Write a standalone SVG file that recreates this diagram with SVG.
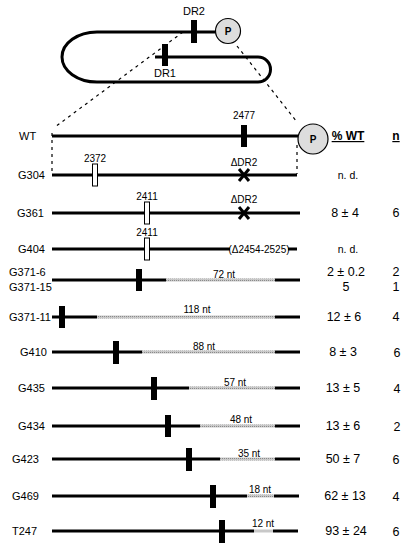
<svg xmlns="http://www.w3.org/2000/svg" width="412" height="550" viewBox="0 0 412 550">
<style>
text{font-family:"Liberation Sans",Arial,sans-serif;fill:#000}
.lbl{font-size:11px}
.num{font-size:10px;text-anchor:middle}
.val{font-size:12.5px;text-anchor:middle}
.ln{stroke:#000;stroke-width:3;fill:none}
.st{stroke:url(#stip);stroke-width:3;fill:none}
.bar{fill:#000}
.obar{fill:#fff;stroke:#000;stroke-width:1}
.dash{stroke:#000;stroke-width:1.2;stroke-dasharray:3,4;fill:none}
.pc{fill:#ddd;stroke:#000;stroke-width:1.2}
.x{stroke:#000;stroke-width:3}
</style>
<defs>
<pattern id="stip" width="2" height="2" patternUnits="userSpaceOnUse">
<rect width="2" height="2" fill="#c8c8c8"/>
<rect width="1" height="1" fill="#8a8a8a"/>
</pattern>
</defs>

<g id="hairpin">
<path class="ln" d="M215,32 H97 A35,25 0 0 0 97,82 H258 A12.5,12.5 0 0 0 258,57 H155"/>
<rect class="bar" x="191" y="20" width="6" height="23"/>
<rect class="bar" x="162" y="44" width="6" height="22"/>
<circle class="pc" cx="228" cy="31" r="12.5"/>
<text x="228" y="35" font-size="10" font-weight="bold" text-anchor="middle">P</text>
<text class="lbl" x="194" y="15" text-anchor="middle">DR2</text>
<text class="lbl" x="165" y="77" text-anchor="middle">DR1</text>
</g>

<g id="connectors">
<line class="dash" x1="183" y1="32" x2="55" y2="127"/>
<line class="dash" x1="237" y1="46" x2="297" y2="122"/>
<line class="dash" x1="52" y1="133" x2="52" y2="174"/>
<line class="dash" x1="297" y1="145" x2="297" y2="174"/>
</g>

<g id="header">
<text x="348" y="140" font-size="12" font-weight="bold" text-anchor="middle" text-decoration="underline">% WT</text>
<text x="396" y="140" font-size="12" font-weight="bold" text-anchor="middle" text-decoration="underline">n</text>
</g>

<g id="WT">
<text class="lbl" x="19" y="140">WT</text>
<line class="ln" x1="52" y1="136" x2="298" y2="136"/>
<rect class="bar" x="241" y="125" width="6" height="22"/>
<text class="num" x="244" y="119">2477</text>
<circle class="pc" cx="313" cy="139" r="15"/>
<text x="313" y="143" font-size="10" font-weight="bold" text-anchor="middle">P</text>
</g>

<g id="G304">
<text class="lbl" x="18" y="179">G304</text>
<line class="ln" x1="52" y1="175" x2="297" y2="175"/>
<rect class="obar" x="92.5" y="164" width="5" height="22"/>
<text class="num" x="95" y="162">2372</text>
<line class="x" x1="239" y1="169" x2="249" y2="181"/>
<line class="x" x1="249" y1="169" x2="239" y2="181"/>
<text class="num" x="244" y="166">ΔDR2</text>
<text x="348" y="179" font-size="10.5" text-anchor="middle">n. d.</text>
</g>

<g id="G361">
<text class="lbl" x="17" y="217">G361</text>
<line class="ln" x1="52" y1="213" x2="300" y2="213"/>
<rect class="obar" x="144.5" y="202" width="5" height="22"/>
<text class="num" x="147" y="200">2411</text>
<line class="x" x1="239" y1="207" x2="249" y2="219"/>
<line class="x" x1="249" y1="207" x2="239" y2="219"/>
<text class="num" x="244" y="203">ΔDR2</text>
<text class="val" x="345" y="217">8 ± 4</text>
<text class="val" x="396" y="217">6</text>
</g>

<g id="G404">
<text class="lbl" x="18" y="253">G404</text>
<line class="ln" x1="52" y1="249" x2="230" y2="249"/>
<line class="ln" x1="288" y1="249" x2="297" y2="249"/>
<rect class="obar" x="144.5" y="238" width="5" height="22"/>
<text class="num" x="147" y="236">2411</text>
<text class="num" x="259" y="253">(Δ2454-2525)</text>
<text x="348" y="253" font-size="10.5" text-anchor="middle">n. d.</text>
</g>

<g id="G371-6">
<text class="lbl" x="9" y="276">G371-6</text>
<text class="lbl" x="9" y="291">G371-15</text>
<line class="ln" x1="52" y1="280" x2="166" y2="280"/>
<line class="st" x1="166" y1="280" x2="275" y2="280"/>
<line class="ln" x1="275" y1="280" x2="300" y2="280"/>
<rect class="bar" x="136" y="269" width="6" height="22"/>
<text class="num" x="224" y="278">72 nt</text>
<text class="val" x="346" y="276">2 ± 0.2</text>
<text class="val" x="346" y="291">5</text>
<text class="val" x="396" y="276">2</text>
<text class="val" x="396" y="291">1</text>
</g>

<g id="G371-11">
<text class="lbl" x="9" y="321">G371-11</text>
<line class="ln" x1="52" y1="317" x2="97" y2="317"/>
<line class="st" x1="97" y1="317" x2="275" y2="317"/>
<line class="ln" x1="275" y1="317" x2="300" y2="317"/>
<rect class="bar" x="59" y="306" width="6" height="22"/>
<text class="num" x="197" y="313">118 nt</text>
<text class="val" x="344" y="321">12 ± 6</text>
<text class="val" x="396" y="321">4</text>
</g>

<g id="G410">
<text class="lbl" x="20" y="356">G410</text>
<line class="ln" x1="52" y1="352" x2="142" y2="352"/>
<line class="st" x1="142" y1="352" x2="275" y2="352"/>
<line class="ln" x1="275" y1="352" x2="300" y2="352"/>
<rect class="bar" x="113" y="341" width="6" height="23"/>
<text class="num" x="204" y="350">88 nt</text>
<text class="val" x="343" y="356">8 ± 3</text>
<text class="val" x="397" y="357">6</text>
</g>

<g id="G435">
<text class="lbl" x="18" y="392">G435</text>
<line class="ln" x1="52" y1="388" x2="189" y2="388"/>
<line class="st" x1="189" y1="388" x2="275" y2="388"/>
<line class="ln" x1="275" y1="388" x2="300" y2="388"/>
<rect class="bar" x="151" y="377" width="6" height="23"/>
<text class="num" x="235" y="386">57 nt</text>
<text class="val" x="343" y="392">13 ± 5</text>
<text class="val" x="397" y="393">4</text>
</g>

<g id="G434">
<text class="lbl" x="18" y="430">G434</text>
<line class="ln" x1="52" y1="426" x2="200" y2="426"/>
<line class="st" x1="200" y1="426" x2="275" y2="426"/>
<line class="ln" x1="275" y1="426" x2="300" y2="426"/>
<rect class="bar" x="165" y="415" width="6" height="22"/>
<text class="num" x="241" y="423">48 nt</text>
<text class="val" x="343" y="430">13 ± 6</text>
<text class="val" x="397" y="431">2</text>
</g>

<g id="G423">
<text class="lbl" x="12" y="463">G423</text>
<line class="ln" x1="52" y1="459" x2="220" y2="459"/>
<line class="st" x1="220" y1="459" x2="275" y2="459"/>
<line class="ln" x1="275" y1="459" x2="300" y2="459"/>
<rect class="bar" x="186" y="448" width="6" height="23"/>
<text class="num" x="249" y="457">35 nt</text>
<text class="val" x="343" y="463">50 ± 7</text>
<text class="val" x="396" y="464">6</text>
</g>

<g id="G469">
<text class="lbl" x="12" y="500">G469</text>
<line class="ln" x1="52" y1="496" x2="247" y2="496"/>
<line class="st" x1="247" y1="496" x2="274" y2="496"/>
<line class="ln" x1="274" y1="496" x2="299" y2="496"/>
<rect class="bar" x="210" y="485" width="6" height="23"/>
<text class="num" x="260" y="493">18 nt</text>
<text class="val" x="345" y="500">62 ± 13</text>
<text class="val" x="396" y="501">4</text>
</g>

<g id="T247">
<text class="lbl" x="12" y="535">T247</text>
<line class="ln" x1="52" y1="531" x2="254" y2="531"/>
<line x1="254" y1="531" x2="273" y2="531" stroke="#c8c8c8" stroke-width="3"/>
<line class="ln" x1="273" y1="531" x2="298" y2="531"/>
<rect class="bar" x="219" y="520" width="6" height="23"/>
<text class="num" x="263" y="527">12 nt</text>
<text class="val" x="346" y="535">93 ± 24</text>
<text class="val" x="396" y="536">6</text>
</g>
</svg>
